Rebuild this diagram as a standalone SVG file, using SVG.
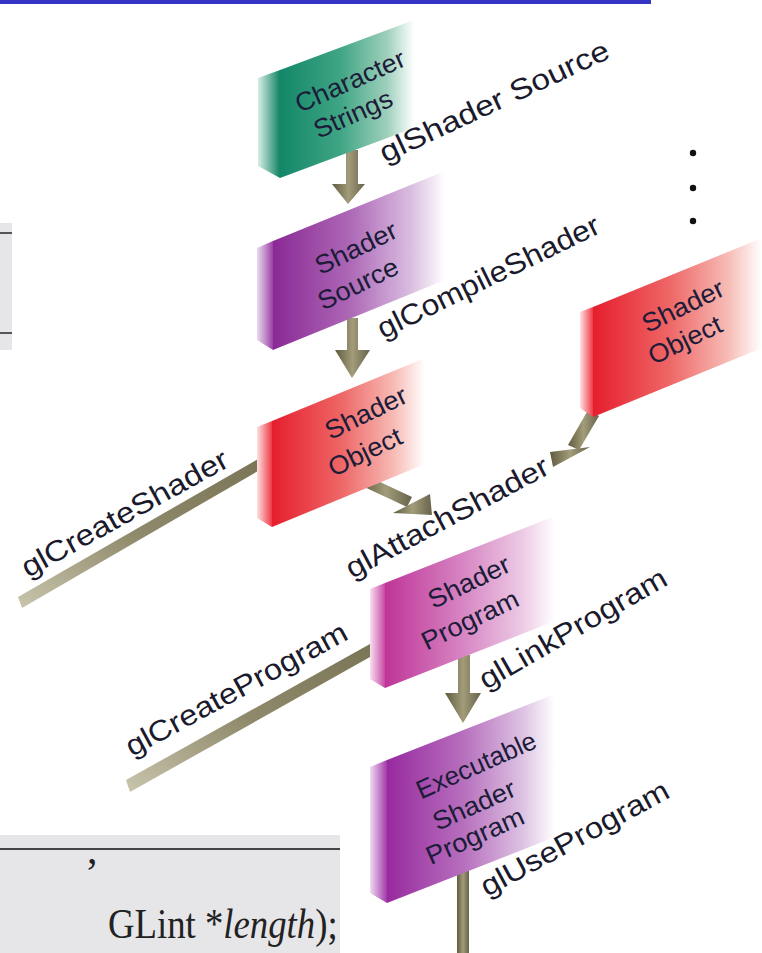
<svg xmlns="http://www.w3.org/2000/svg" width="762" height="953" viewBox="0 0 762 953">
<defs>
<style>
.lbl{font-family:"Liberation Sans",Arial,sans-serif;font-size:26px;fill:#1c1c38;}
.cl{font-family:"Liberation Sans",Arial,sans-serif;font-size:29px;fill:#1a1a2c;}
.ser{font-family:"Liberation Serif","Times New Roman",serif;font-size:42px;fill:#222;}
</style>
<linearGradient id="gGreen" x1="0" y1="0" x2="1" y2="0"><stop offset="0" stop-color="#138769"/><stop offset="0.45" stop-color="#3fa584"/><stop offset="0.8" stop-color="#9fd0bc"/><stop offset="1" stop-color="#ffffff"/></linearGradient>
<linearGradient id="sGreen" x1="0" y1="0" x2="1" y2="0"><stop offset="0" stop-color="#d8eee6"/><stop offset="1" stop-color="#128465"/></linearGradient>
<linearGradient id="gPurple" x1="0" y1="0" x2="1" y2="0"><stop offset="0" stop-color="#8a2995"/><stop offset="0.45" stop-color="#ad68b6"/><stop offset="0.8" stop-color="#d9bde0"/><stop offset="1" stop-color="#ffffff"/></linearGradient>
<linearGradient id="sPurple" x1="0" y1="0" x2="1" y2="0"><stop offset="0" stop-color="#eadcee"/><stop offset="1" stop-color="#9a3fa6"/></linearGradient>
<linearGradient id="gRed" x1="0" y1="0" x2="1" y2="0"><stop offset="0" stop-color="#e61e2e"/><stop offset="0.45" stop-color="#ee6666"/><stop offset="0.8" stop-color="#f7bcb6"/><stop offset="1" stop-color="#ffffff"/></linearGradient>
<linearGradient id="sRed" x1="0" y1="0" x2="1" y2="0"><stop offset="0" stop-color="#fde0e0"/><stop offset="1" stop-color="#ee3a46"/></linearGradient>
<linearGradient id="gPink" x1="0" y1="0" x2="1" y2="0"><stop offset="0" stop-color="#bf3598"/><stop offset="0.45" stop-color="#d684c2"/><stop offset="0.8" stop-color="#ecc8e4"/><stop offset="1" stop-color="#ffffff"/></linearGradient>
<linearGradient id="sPink" x1="0" y1="0" x2="1" y2="0"><stop offset="0" stop-color="#f6e0f0"/><stop offset="1" stop-color="#c848a4"/></linearGradient>
<linearGradient id="gViolet" x1="0" y1="0" x2="1" y2="0"><stop offset="0" stop-color="#982a9f"/><stop offset="0.45" stop-color="#b66ebd"/><stop offset="0.8" stop-color="#dcc0e2"/><stop offset="1" stop-color="#ffffff"/></linearGradient>
<linearGradient id="sViolet" x1="0" y1="0" x2="1" y2="0"><stop offset="0" stop-color="#eedcf0"/><stop offset="1" stop-color="#a23aaa"/></linearGradient>
<linearGradient id="arrowG" x1="0" y1="0" x2="1" y2="0"><stop offset="0" stop-color="#5f5b3e"/><stop offset="0.5" stop-color="#a29c7a"/><stop offset="1" stop-color="#67634a"/></linearGradient>
<linearGradient id="bandG" x1="0" y1="1" x2="1" y2="0"><stop offset="0" stop-color="#c9c5ad"/><stop offset="0.5" stop-color="#8e896a"/><stop offset="1" stop-color="#7a7556"/></linearGradient>
</defs>
<rect width="762" height="953" fill="#ffffff"/>
<g id="page">
<rect x="0" y="0" width="651" height="4" fill="#3535c4"/>
<rect x="0" y="223" width="12" height="127" fill="#e6e6e8"/>
<rect x="0" y="232" width="12" height="2" fill="#555"/>
<rect x="0" y="332" width="12" height="2" fill="#555"/>
<rect x="0" y="835" width="340" height="118" fill="#e6e6e8"/>
<rect x="0" y="848" width="340" height="2" fill="#444"/>
<text class="ser" x="87" y="863">,</text>
<text class="ser" transform="translate(108,938) scale(0.875,1)">GLint *<tspan font-style="italic">length</tspan>);</text>
</g>
<g id="connectors">
<polygon points="18,597 258,459 258,471 22,608" fill="url(#bandG)"/>
<polygon points="126,780 370,644 370,657 130,792" fill="url(#bandG)"/>
<g fill="url(#arrowG)">
<polygon points="346,150 358,150 358,184 365,184 348,204 332,184 346,184"/>
<polygon points="347,318 358,318 358,350 370,350 352,378 335,350 347,350"/>
<polygon points="363,474 412,497 407,507 360,485"/>
<polygon points="393,513 430,494 432,515"/>
<polygon points="588,410 599,416 579,450 568,445"/>
<polygon points="550,452 590,447 553,467"/>
<polygon points="458,655 470,655 470,693 481,693 463,723 445,693 458,693"/>
<polygon points="457,860 469,860 469,953 457,953"/>
</g>
</g>
<g id="character-strings">
<polygon points="258,78 280,70 280,178 258,166" fill="url(#sGreen)"/>
<polygon points="280,70 414,20 414,128 280,178" fill="url(#gGreen)"/>
<text class="lbl" transform="translate(350,81) rotate(-24) scale(1.03,1)" text-anchor="middle" dominant-baseline="central">Character</text>
<text class="lbl" transform="translate(353,114) rotate(-24) scale(1.03,1)" text-anchor="middle" dominant-baseline="central">Strings</text>
</g>
<g id="shader-source">
<polygon points="257,248 273,241 273,350 257,340" fill="url(#sPurple)"/>
<polygon points="273,241 445,171 445,280 273,350" fill="url(#gPurple)"/>
<text class="lbl" transform="translate(356,248) rotate(-26) scale(1.05,1)" text-anchor="middle" dominant-baseline="central">Shader</text>
<text class="lbl" transform="translate(358,284) rotate(-26) scale(1.05,1)" text-anchor="middle" dominant-baseline="central">Source</text>
</g>
<g id="shader-object-1">
<polygon points="257,427 272,421 272,527 257,518" fill="url(#sRed)"/>
<polygon points="272,421 425,358 425,464 272,527" fill="url(#gRed)"/>
<text class="lbl" transform="translate(366,413) rotate(-26) scale(1.05,1)" text-anchor="middle" dominant-baseline="central">Shader</text>
<text class="lbl" transform="translate(365,452) rotate(-26) scale(1.05,1)" text-anchor="middle" dominant-baseline="central">Object</text>
</g>
<g id="shader-object-2">
<polygon points="580,312 593,307 593,417 580,408" fill="url(#sRed)"/>
<polygon points="593,307 762,238 762,348 593,417" fill="url(#gRed)"/>
<text class="lbl" transform="translate(683,306) rotate(-26) scale(1.05,1)" text-anchor="middle" dominant-baseline="central">Shader</text>
<text class="lbl" transform="translate(685,340) rotate(-26) scale(1.05,1)" text-anchor="middle" dominant-baseline="central">Object</text>
</g>
<g id="shader-program">
<polygon points="370,589 385,583 385,688 370,679" fill="url(#sPink)"/>
<polygon points="385,583 555,516 555,621 385,688" fill="url(#gPink)"/>
<text class="lbl" transform="translate(469,582) rotate(-26) scale(1.05,1)" text-anchor="middle" dominant-baseline="central">Shader</text>
<text class="lbl" transform="translate(470,620) rotate(-26) scale(1.05,1)" text-anchor="middle" dominant-baseline="central">Program</text>
</g>
<g id="executable-shader-program">
<polygon points="370,767 387,760 387,903 370,893" fill="url(#sViolet)"/>
<polygon points="387,760 555,694 555,837 387,903" fill="url(#gViolet)"/>
<text class="lbl" transform="translate(476,765) rotate(-24) scale(1.0,1)" text-anchor="middle" dominant-baseline="central">Executable</text>
<text class="lbl" transform="translate(474,805) rotate(-24) scale(1.05,1)" text-anchor="middle" dominant-baseline="central">Shader</text>
<text class="lbl" transform="translate(475,836) rotate(-24) scale(1.05,1)" text-anchor="middle" dominant-baseline="central">Program</text>
</g>
<g id="connector-labels">
<text class="cl" transform="translate(385,163) rotate(-25)" textLength="250" lengthAdjust="spacingAndGlyphs">glShader Source</text>
<text class="cl" transform="translate(383,339) rotate(-26)" textLength="244" lengthAdjust="spacingAndGlyphs">glCompileShader</text>
<text class="cl" transform="translate(28,578) rotate(-29)" textLength="232" lengthAdjust="spacingAndGlyphs">glCreateShader</text>
<text class="cl" transform="translate(352,579) rotate(-28)" textLength="226" lengthAdjust="spacingAndGlyphs">glAttachShader</text>
<text class="cl" transform="translate(132,757) rotate(-28.5)" textLength="248" lengthAdjust="spacingAndGlyphs">glCreateProgram</text>
<text class="cl" transform="translate(486,690) rotate(-30)" textLength="212" lengthAdjust="spacingAndGlyphs">glLinkProgram</text>
<text class="cl" transform="translate(487,897) rotate(-28.5)" textLength="210" lengthAdjust="spacingAndGlyphs">glUseProgram</text>
</g>
<g id="ellipsis" fill="#111">
<circle cx="693" cy="153" r="3.2"/>
<circle cx="693" cy="188" r="3.2"/>
<circle cx="693" cy="221" r="3.2"/>
</g>
</svg>
